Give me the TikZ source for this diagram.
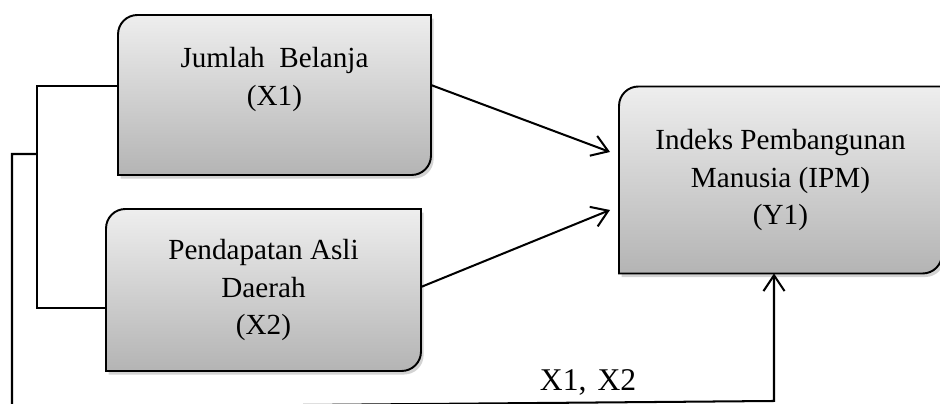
\documentclass[tikz,border=0pt]{standalone}
\usepackage{fontspec}
\setmainfont{Liberation Serif}
\usetikzlibrary{arrows.meta,shadows,backgrounds}
\definecolor{boxtop}{RGB}{238,238,238}
\definecolor{boxbot}{RGB}{180,180,180}

% frame with two round corners, drawn behind node #1
\newcommand{\varframe}[1]{%
	\filldraw[frame] (#1.south west) -- ([yshift=-11pt]#1.north west)
	arc[start angle=180,end angle=90,radius=11pt] -- (#1.north east)
	-- ([yshift=11pt]#1.south east)
	arc[start angle=0,end angle=-90,radius=11pt] -- cycle;}

\begin{document}
\begin{tikzpicture}[x=0.02cm,y=-0.02cm,>={Straight Barb[length=9pt,width=12pt]},line width=1.15pt,
	var/.style={inner sep=0pt,align=center,font=\fontsize{16.6}{21.5}\selectfont},
	frame/.style={draw=black,line width=1.1pt,top color=boxtop,bottom color=boxbot,
		drop shadow={shadow xshift=1.5pt,shadow yshift=-2pt,opacity=.35}}]
	\useasboundingbox (0,0) rectangle (940,404);

	\node[var,minimum width=6.22cm,minimum height=3.16cm] (jb) at (274.5,95) {Jumlah\ \ Belanja\\(X1)\\\mbox{}};
	\node[var,minimum width=6.26cm,minimum height=3.2cm] (pad) at (263.5,290) {Pendapatan Asli\\Daerah\\(X2)};
	\node[var,minimum width=6.42cm,minimum height=3.7cm] (ipm) at (780.5,180) {Indeks Pembangunan\\Manusia (IPM)\\(Y1)};

	\begin{scope}[on background layer]
		\varframe{jb}
		\varframe{pad}
		\varframe{ipm}
	\end{scope}

	\path[->] ([shift={(0,-10)}]jb.east) edge ([shift={(-9,-28)}]ipm.west)
	([shift={(0,-3)}]pad.east) edge ([shift={(-9,30)}]ipm.west);

	\draw ([shift={(0,-9)}]jb.west) -- ++(-81,0) coordinate (top) |- ([shift={(0,18)}]pad.west);
	\coordinate (tap) at (top |- 0,154);
	\coordinate (low) at (12,407.5);
	\draw[->] (tap) -- (tap -| low) -- (low) -- ([shift={(-6.5,127.5)}]ipm.south)
	node[pos=.756,anchor=base,yshift=7pt,inner sep=0pt,font=\fontsize{18}{20}\selectfont] {X1,\hspace{0.35em}X2}
	-- ([shift={(-6.5,0)}]ipm.south);
\end{tikzpicture}
\end{document}
